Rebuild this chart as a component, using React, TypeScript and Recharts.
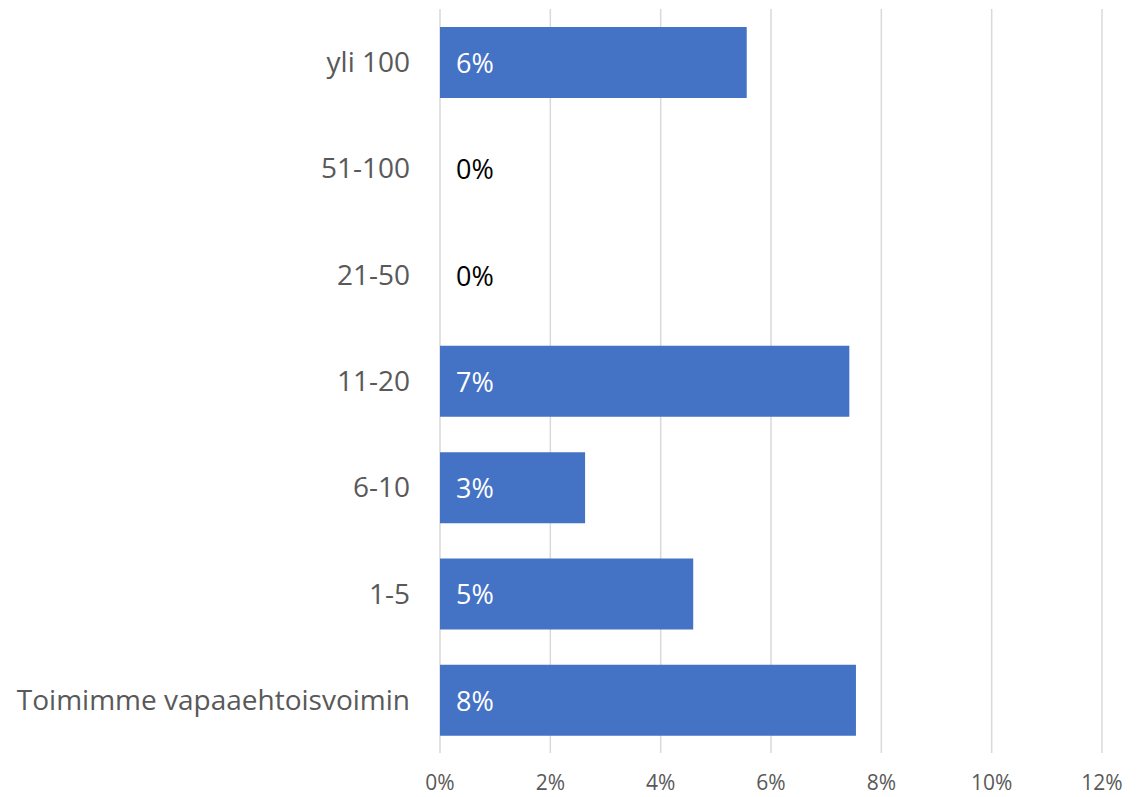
import React from "react";
import {
  BarChart,
  Bar,
  XAxis,
  YAxis,
  CartesianGrid,
  LabelList,
} from "recharts";

// categories from top to bottom
const categories = [
  "yli 100",
  "51-100",
  "21-50",
  "11-20",
  "6-10",
  "1-5",
  "Toimimme vapaaehtoisvoimin",
];

// share of respondents (fraction)
const shares = [0.0556, 0, 0, 0.0742, 0.0263, 0.0459, 0.0754];

const xTicks = [0, 0.02, 0.04, 0.06, 0.08, 0.1, 0.12];

const data = categories.map((name, i) => ({ name, value: shares[i] }));

const FONT = "'Open Sans', sans-serif";
const pct = (v: number) => `${Math.round(v * 100)}%`;

/* eslint-disable @typescript-eslint/no-explicit-any */
function BarLabel(props: any) {
  const { x, y, height, value } = props;
  return (
    <text
      x={Number(x) + 16}
      y={Number(y) + Number(height) / 2}
      dominantBaseline="central"
      fill={value > 0 ? "#ffffff" : "#000000"}
      fontSize={27}
      fontFamily={FONT}
    >
      {pct(value)}
    </text>
  );
}

export default function App() {
  return (
    <div style={{ position: "absolute", left: 0, top: 0, background: "#fff" }}>
      <BarChart
        width={1144}
        height={797}
        data={data}
        layout="vertical"
        margin={{ top: 9, right: 42, left: 0, bottom: 0 }}
      >
        <CartesianGrid horizontal={false} stroke="#d9d9d9" strokeWidth={1.5} />
        <XAxis
          type="number"
          domain={[0, 0.12]}
          ticks={xTicks}
          tickFormatter={pct}
          axisLine={false}
          tickLine={false}
          height={44}
          tickMargin={16}
          interval={0}
          tick={{ fill: "#595959", fontSize: 21, fontFamily: FONT }}
        />
        <YAxis
          type="category"
          dataKey="name"
          width={440}
          axisLine={false}
          tickLine={false}
          tickMargin={24}
          interval={0}
          tick={{ fill: "#595959", fontSize: 28, fontFamily: FONT }}
        />
        <Bar
          dataKey="value"
          fill="#4472C4"
          barSize={71}
          minPointSize={(v: number) => (v === 0 ? 0.01 : 0)}
          isAnimationActive={false}
        >
          <LabelList dataKey="value" content={<BarLabel />} />
        </Bar>
      </BarChart>
    </div>
  );
}
